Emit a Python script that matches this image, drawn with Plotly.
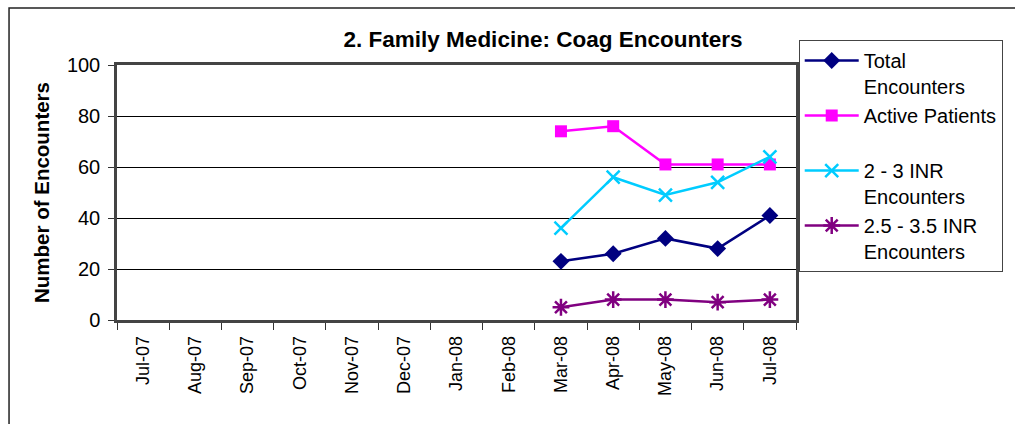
import plotly.graph_objects as go

months = ['Jul-07', 'Aug-07', 'Sep-07', 'Oct-07', 'Nov-07', 'Dec-07', 'Jan-08',
          'Feb-08', 'Mar-08', 'Apr-08', 'May-08', 'Jun-08', 'Jul-08']

# only the last five months have data
blank = [None] * 8
total_encounters = blank + [23, 26, 32, 28, 41]
active_patients = blank + [74, 76, 61, 61, 61]
inr_2_3 = blank + [36, 56, 49, 54, 64]
inr_25_35 = blank + [5, 8, 8, 7, 8]

FONT = "Liberation Sans, Arial, sans-serif"

fig = go.Figure()

fig.add_trace(go.Scatter(
    x=months, y=total_encounters, name='Total<br>Encounters', mode='lines+markers',
    line=dict(color='#000080', width=2.5),
    marker=dict(symbol='diamond', size=13, color='#000080')
))
fig.add_trace(go.Scatter(
    x=months, y=active_patients, name='Active Patients<br> ', mode='lines+markers',
    line=dict(color='#FF00FF', width=2.5),
    marker=dict(symbol='square', size=12, color='#FF00FF')
))
fig.add_trace(go.Scatter(
    x=months, y=inr_2_3, name='2 - 3 INR<br>Encounters', mode='lines+markers',
    line=dict(color='#00CCFF', width=2.5),
    marker=dict(symbol='x-thin-open', size=13, color='#00CCFF',
                line=dict(color='#00CCFF', width=2.5))
))
fig.add_trace(go.Scatter(
    x=months, y=inr_25_35, name='2.5 - 3.5 INR<br>Encounters', mode='lines+markers',
    line=dict(color='#800080', width=2.5),
    marker=dict(symbol='asterisk-open', size=14, color='#800080',
                line=dict(color='#800080', width=2.5))
))

# outer chart frame (only top and left edges fall inside the picture)
fig.add_shape(type='rect', xref='paper', yref='paper',
              x0=-0.159, x1=1.5, y0=-1, y1=1.2235,
              line=dict(color='#222222', width=1.5), layer='below')

fig.update_layout(
    width=1015, height=424,
    margin=dict(l=117, r=219, t=65, b=104),
    paper_bgcolor='white', plot_bgcolor='white',
    font=dict(family=FONT, color='black', size=18),
    title=dict(text='<b>2. Family Medicine: Coag Encounters</b>',
               x=543 / 1015, xanchor='center', y=1 - 39 / 424, yanchor='middle',
               font=dict(size=22.5, family=FONT, color='black')),
    showlegend=True,
    legend=dict(
        x=1.004, xanchor='left', y=1.098, yanchor='top',
        bordercolor='#444444', borderwidth=1, bgcolor='white',
        font=dict(size=20, family=FONT), valign='top',
        itemwidth=54, tracegroupgap=0, maxheight=400
    ),
    xaxis=dict(
        type='category', categoryorder='array', categoryarray=months,
        range=[-0.5, 12.5], tickangle=-90, tickson='boundaries',
        ticks='outside', ticklen=7, tickcolor='#333333',
        showgrid=False, showline=True, linecolor='#444444', linewidth=2.5,
        mirror=True, tickfont=dict(size=18), ticklabelstandoff=6
    ),
    yaxis=dict(
        range=[0, 100], dtick=20, ticks='outside', ticklen=6, tickcolor='#333333',
        showgrid=True, gridcolor='black', gridwidth=1,
        showline=True, linecolor='#444444', linewidth=2.5, mirror=True,
        zeroline=False, tickfont=dict(size=20), ticklabelstandoff=4,
        title=dict(text='<b>Number of Encounters</b>', font=dict(size=20.5), standoff=12)
    )
)

fig.write_html("out.html", config={'displayModeBar': False},
               post_script="document.body.style.margin='0';")
